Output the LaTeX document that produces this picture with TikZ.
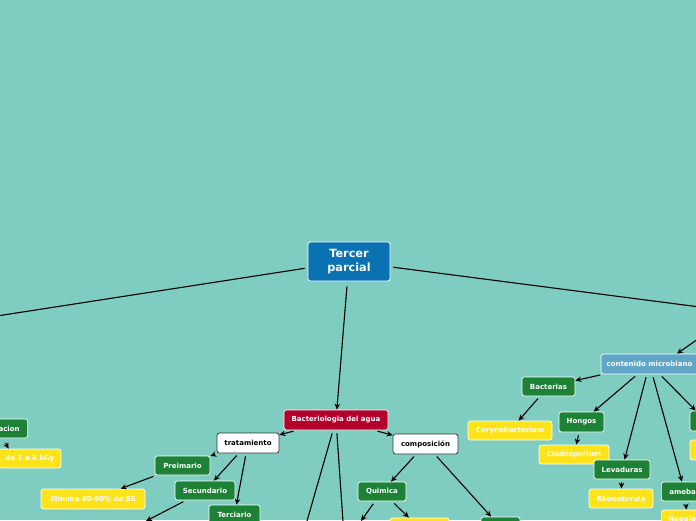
\documentclass[tikz,border=0pt]{standalone}
\usepackage{fontspec}
\setmainfont{DejaVu Sans}
\usetikzlibrary{arrows.meta,calc}
\definecolor{bgc}{HTML}{7ECDC0}
\definecolor{mmblue}{HTML}{0A72B2}
\definecolor{mmred}{HTML}{B4002C}
\definecolor{mmgreen}{HTML}{1E8236}
\definecolor{mmyellow}{HTML}{FFE31A}
\definecolor{mmlblue}{HTML}{5FA6C9}
\begin{document}
\begin{tikzpicture}[x=1pt,y=-1pt,
  box/.style={rounded corners=2.5pt, draw=white, line width=0.7pt, inner sep=0pt,
    minimum height=19pt, font=\fontsize{7}{8}\selectfont\bfseries, text=white},
  gbox/.style={box, fill=mmgreen},
  ybox/.style={box, fill=mmyellow},
  wbox/.style={box, fill=white, draw=black!80, text=black},
  arr/.style={-{Stealth[length=6pt,width=5.5pt]}, line width=1.1pt, black, shorten <=3pt},
  ln/.style={line width=1.1pt, black, shorten <=3pt}]
\useasboundingbox (0,0) rectangle (696,520);
\fill[bgc] (0,0) rectangle (696,520);
\clip (0,0) rectangle (696,520);

% nodes
\node[box, fill=mmblue, minimum width=82pt, minimum height=39pt,
  font=\fontsize{11.3}{13.5}\selectfont\bfseries, align=center] (tp) at (349,261.5) {Tercer\\parcial};
\node[box, fill=mmred, minimum width=104pt, minimum height=20pt] (bact) at (336,420) {Bacteriologia del agua};
\node[wbox, minimum width=62pt, minimum height=20pt] (trat) at (248,443) {tratamiento};
\node[wbox, minimum width=65pt, minimum height=20pt] (comp) at (425.5,444) {composición};
\node[gbox, minimum width=55pt] (prei) at (182.5,465.5) {Preimario};
\node[gbox, minimum width=60pt] (secu) at (205,490.5) {Secundario};
\node[gbox, minimum width=51pt, minimum height=20pt] (terc) at (234.5,515) {Terciario};
\node[ybox, minimum width=104pt, minimum height=20pt] (elim) at (93,499) {Elimina 40-60\% de SS};
\node[gbox, anchor=east, inner xsep=8pt] (acion) at (28,428.5) {Radiacion};
\node[ybox, minimum width=62pt] (kgy) at (30,458.5) {de 1 a 4 kGy};
\node[gbox, minimum width=48pt] (quim) at (382,491.5) {Quimica};
\node[gbox, minimum width=39pt, minimum height=20pt] (compg) at (500.5,527) {};
\node[ybox, minimum width=59pt, minimum height=20pt] (quimy) at (419.5,528) {};
\node[box, fill=mmlblue, minimum width=97pt, minimum height=20pt] (cm) at (649.5,364) {contenido microbiano};
\node[gbox, minimum width=53pt] (bacs) at (548.5,386.5) {Bacterias};
\node[ybox, minimum width=84pt] (cory) at (510,430.5) {Corynebacterium};
\node[gbox, minimum width=45pt, minimum height=20pt] (hong) at (581.5,422) {Hongos};
\node[ybox, minimum width=70pt] (clad) at (574,454.5) {Cladosporium};
\node[gbox, minimum width=56pt] (leva) at (622,469.5) {Levaduras};
\node[ybox, minimum width=64pt] (rhod) at (621,498.5) {Rhodotorula};
\node[gbox, anchor=west, inner xsep=8pt] (ameb) at (661,491.5) {amebas};
\node[ybox, anchor=west, inner xsep=7pt, minimum height=20pt] (naeg) at (661,520) {Naegleria};
\node[gbox, minimum width=32pt, minimum height=20pt] (rg) at (706,421) {};
\node[ybox, minimum width=50pt, minimum height=20pt] (ry) at (715,450) {};

% off-picture ends
\coordinate (offL) at (-100,331);
\coordinate (offR) at (760,314.8);
\coordinate (offR2) at (724.5,320.5);
\coordinate (offB1) at (278.6,620);
\coordinate (offB2) at (349.8,620);
\coordinate (secuT) at (146,521);
\coordinate (quimT) at (361,521);

% connectors
\draw[ln] (tp) -- (offL);
\draw[ln] (tp) -- (offR);
\draw[arr, shorten <=5pt] (tp) -- (bact);
\draw[arr] (offR2) -- ($(cm.north)+(27.5,0)$);
\draw[arr] (bact) -- (trat);
\draw[arr] (bact) -- (comp);
\draw[ln] (bact) -- (offB1);
\draw[ln] (bact) -- (offB2);
\draw[arr] (trat) -- (prei);
\draw[arr] (trat) -- (secu);
\draw[arr] (trat) -- (terc);
\draw[arr] (prei) -- (elim);
\draw[arr] (secu) -- (secuT);
\draw[arr] ($(acion.south east)+(-24,2)$) -- ($(kgy.north west)+(10,0)$);
\draw[arr] (comp) -- (quim);
\draw[arr] (comp) -- (compg);
\draw[arr] (quim) -- (quimT);
\draw[arr] (quim) -- (quimy);
\draw[arr] (cm) -- (bacs);
\draw[arr] (cm) -- (hong);
\draw[arr] (cm) -- (leva);
\draw[arr] (cm) -- (ameb);
\draw[arr] (cm) -- (rg);
\draw[arr] (bacs) -- (cory);
\draw[arr] (hong) -- (clad);
\draw[arr] (leva) -- (rhod);
\draw[arr] (ameb) -- (naeg);
\end{tikzpicture}
\end{document}
